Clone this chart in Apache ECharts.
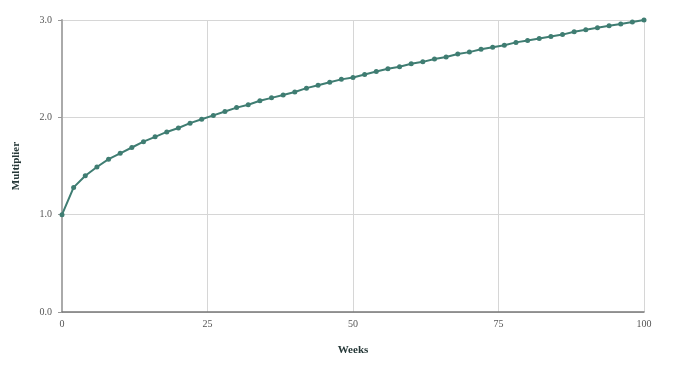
<!DOCTYPE html>
<html><head><meta charset="utf-8">
<script src="https://cdn.jsdelivr.net/npm/echarts@6/dist/echarts.min.js"></script>
<style>html,body{margin:0;padding:0;background:#fff}#c{width:673px;height:370px}</style>
</head><body><div id="c"></div>
<script>
const weeks = [0,2,4,6,8,10,12,14,16,18,20,22,24,26,28,30,32,34,36,38,40,42,44,46,48,50,52,54,56,58,60,62,64,66,68,70,72,74,76,78,80,82,84,86,88,90,92,94,96,98,100];
const multiplier = [1.00,1.28,1.40,1.49,1.57,1.63,1.69,1.75,1.80,1.85,1.89,1.94,1.98,2.02,2.06,2.10,2.13,2.17,2.20,2.23,2.26,2.30,2.33,2.36,2.39,2.41,2.44,2.47,2.50,2.52,2.55,2.57,2.60,2.62,2.65,2.67,2.70,2.72,2.74,2.77,2.79,2.81,2.83,2.85,2.88,2.90,2.92,2.94,2.96,2.98,3.00];
const xTicks = [0,25,50,75,100];
const yTicks = [0,1,2,3];
const font = '"Liberation Serif","DejaVu Serif",serif';
const chart = echarts.init(document.getElementById('c'));
chart.setOption({
  animation:false,
  grid:{left:62,right:29,top:20,bottom:58},
  xAxis:{type:'value',min:0,max:100,interval:25,name:'Weeks',nameLocation:'middle',nameGap:33,
    nameTextStyle:{fontFamily:font,fontWeight:'bold',fontSize:11,color:'#263838'},
    axisLine:{lineStyle:{color:'#777',width:1.5}},
    axisTick:{show:false},
    axisLabel:{fontFamily:font,fontSize:10,color:'#555',margin:7},
    splitLine:{show:true,lineStyle:{color:'#d6d6d6',width:1}}},
  yAxis:{type:'value',min:0,max:3,interval:1,name:'Multiplier',nameLocation:'middle',nameGap:40,nameRotate:90,
    nameTextStyle:{fontFamily:font,fontWeight:'bold',fontSize:11,color:'#263838'},
    axisLine:{show:true,lineStyle:{color:'#aaa',width:2}},
    axisTick:{show:true,length:4,lineStyle:{color:'#999'}},
    axisLabel:{fontFamily:font,fontSize:10,color:'#555',margin:10,formatter:v=>v.toFixed(1)},
    splitLine:{show:true,lineStyle:{color:'#d6d6d6',width:1}}},
  series:[{type:'line',data:weeks.map((w,i)=>[w,multiplier[i]]),
    symbol:'circle',symbolSize:5,showSymbol:true,
    lineStyle:{color:'#3f7d72',width:2},itemStyle:{color:'#3f7d72'}}]
});
</script></body></html>
